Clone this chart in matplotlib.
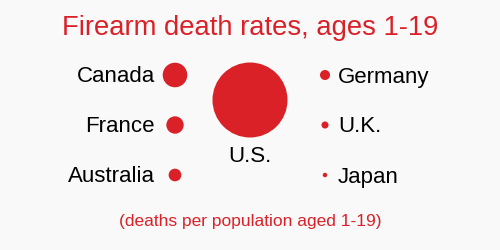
import numpy as np
import matplotlib
matplotlib.use("Agg")
import matplotlib.pyplot as plt
from matplotlib.patches import Circle

plt.rcParams['font.family'] = ['Liberation Sans', 'DejaVu Sans']

# rates (relative; circle area ~ rate)
left_countries = ["Canada", "France", "Australia"]
left_rates = [0.6, 0.3, 0.16]
right_countries = ["Germany", "U.K.", "Japan"]
right_rates = [0.1, 0.05, 0.02]
us_label = "U.S."
us_rate = 5.6

red = "#da2128"
bg = "#f9f9f9"
us_radius = 37.5  # px
row_y = [75, 125, 175]


def radius(v):
    return us_radius * np.sqrt(v / us_rate)


fig = plt.figure(figsize=(5, 2.5), dpi=100, facecolor=bg)
ax = fig.add_axes([0, 0, 1, 1])
ax.set_xlim(0, 500)
ax.set_ylim(250, 0)
ax.set_aspect("equal")
ax.axis("off")
ax.set_facecolor(bg)

ax.text(250, 35, "Firearm death rates, ages 1-19", color=red, fontsize=19.7,
        ha="center", va="baseline")

# U.S.
ax.add_patch(Circle((250, 100), radius(us_rate), color=red, lw=0))
ax.text(250, 161.5, us_label, fontsize=16, ha="center", va="baseline")

for name, v, y in zip(left_countries, left_rates, row_y):
    ax.add_patch(Circle((175, y), radius(v), color=red, lw=0))
    ax.text(155, y + 7.5, name, fontsize=16, ha="right", va="baseline")

for name, v, y in zip(right_countries, right_rates, row_y):
    ax.add_patch(Circle((325, y), radius(v), color=red, lw=0))
    ax.text(338, y + 7.5, name, fontsize=16, ha="left", va="baseline")

ax.text(250, 226, "(deaths per population aged 1-19)", color=red, fontsize=12.5,
        ha="center", va="baseline")

fig.savefig("out.png", dpi=100, facecolor=bg)
